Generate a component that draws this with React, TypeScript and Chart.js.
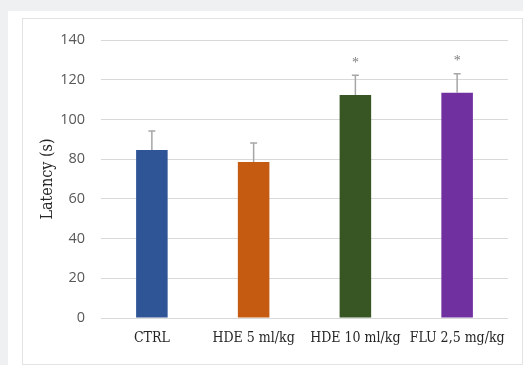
import React, { useEffect, useRef } from "react";
import { Chart, registerables } from "chart.js";

Chart.register(...registerables);

const categories = ["CTRL", "HDE 5 ml/kg", "HDE 10 ml/kg", "FLU 2,5 mg/kg"];
const latency = [84.6, 78.6, 112.3, 113.4];
const errors = [9.6, 9.5, 9.9, 9.6];
const significant = [false, false, true, true];
const barColors = ["#2F5597", "#C55A11", "#375623", "#7030A0"];
const yTicks = [0, 20, 40, 60, 80, 100, 120, 140];

const SERIF = "'DejaVu Serif Condensed', 'Liberation Serif', serif";

const errorBarPlugin = {
  id: "errorBars",
  afterDatasetsDraw(chart: any) {
    const { ctx, scales } = chart;
    const x = scales.x;
    const y = scales.y;
    ctx.save();
    latency.forEach((v, i) => {
      const cx = x.getPixelForValue(i);
      const yTop = y.getPixelForValue(v + errors[i]);
      const yBar = y.getPixelForValue(v);
      ctx.strokeStyle = "#a6a6a6";
      ctx.lineWidth = 1.5;
      ctx.beginPath();
      ctx.moveTo(cx, yBar);
      ctx.lineTo(cx, yTop);
      ctx.moveTo(cx - 3.5, yTop);
      ctx.lineTo(cx + 3.5, yTop);
      ctx.stroke();
      if (significant[i]) {
        ctx.fillStyle = "#7f7f7f";
        ctx.font = "14px 'Liberation Serif', serif";
        ctx.textAlign = "center";
        ctx.textBaseline = "middle";
        ctx.fillText("*", cx, yTop - 12);
      }
    });
    ctx.restore();
  },
};

export default function App() {
  const ref = useRef<HTMLCanvasElement | null>(null);
  useEffect(() => {
    document.body.style.margin = "0";
    const chart = new Chart(ref.current as HTMLCanvasElement, {
      type: "bar",
      data: {
        labels: categories,
        datasets: [
          {
            data: latency,
            backgroundColor: barColors,
            borderColor: barColors,
            borderWidth: 0,
            barPercentage: 0.62,
            categoryPercentage: 0.5,
          },
        ],
      },
      options: {
        animation: false,
        responsive: false,
        maintainAspectRatio: false,
        layout: { padding: { top: 21, right: 14, left: 0, bottom: 0 } },
        plugins: { legend: { display: false }, tooltip: { enabled: false } },
        scales: {
          x: {
            grid: { display: false, drawTicks: false },
            border: { display: false },
            ticks: {
              color: "#262626",
              padding: 12,
              font: { family: SERIF, size: 14 },
            },
            afterFit: (s: any) => {
              s.height = 46;
            },
          },
          y: {
            min: 0,
            max: 140,
            afterBuildTicks: (s: any) => {
              s.ticks = yTicks.map((v) => ({ value: v }));
            },
            grid: { color: "#d9d9d9", lineWidth: 1, drawTicks: false },
            border: { display: false },
            ticks: {
              color: "#595959",
              padding: 16,
              font: { family: "'Open Sans', 'Liberation Sans', sans-serif", size: 14.5 },
            },
            title: {
              display: true,
              text: "Latency (s)",
              color: "#262626",
              padding: { top: 15, bottom: 0 },
              font: { family: SERIF, size: 16 },
            },
            afterFit: (s: any) => {
              s.width = 78;
              s.paddingTop = 0;
              s.paddingBottom = 0;
            },
          },
        },
      },
      plugins: [errorBarPlugin],
    });
    return () => chart.destroy();
  }, []);

  return (
    <div style={{ position: "absolute", left: 0, top: 0, width: 523, height: 365, background: "#eff0f2", overflow: "hidden" }}>
      <div style={{ position: "absolute", left: 8, top: 11, width: 515, height: 354, background: "#ffffff" }} />
      <div
        style={{
          position: "absolute",
          left: 22,
          top: 18,
          width: 499,
          height: 345,
          border: "1px solid #e3e3e3",
          background: "#ffffff",
        }}
      >
        <canvas ref={ref} width={499} height={345} style={{ display: "block" }} />
      </div>
    </div>
  );
}
